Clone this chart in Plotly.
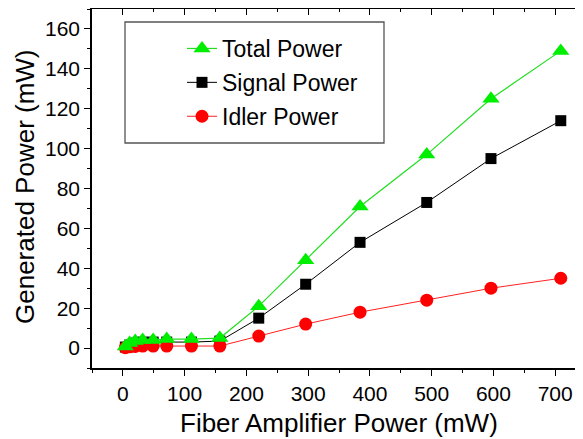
import plotly.graph_objects as go

# Data
fiber_power = [4, 11, 20, 32, 49, 71, 111, 157, 220, 296, 384, 492, 596, 709]
total_power = [0.8, 2.5, 3.5, 4.0, 4.0, 4.5, 4.5, 5.0, 21, 44, 71, 97, 125, 149]
signal_power = [0.5, 1.5, 2.5, 3.0, 3.0, 3.0, 3.0, 3.5, 15, 32, 53, 73, 95, 114]
idler_power = [0.2, 0.6, 0.8, 1.0, 1.0, 1.0, 1.0, 1.0, 6, 12, 18, 24, 30, 35]

x_ticks = [0, 100, 200, 300, 400, 500, 600, 700]
y_ticks = [0, 20, 40, 60, 80, 100, 120, 140, 160]

# page body has an 8px margin; figure is sized to fill the rest of the window
OFF = 8
W, H = 583 - OFF, 439 - OFF
ML, MR, MT, MB = 84, 0, 1, 71
PW, PH = W - ML - MR, H - MT - MB
FONT = "Liberation Sans, Arial, sans-serif"


def px_x(p):
    # screen pixel -> paper fraction
    return (p - OFF - ML) / PW


def px_y(p):
    return 1 - (p - OFF - MT) / PH


fig = go.Figure()

fig.add_trace(go.Scatter(
    x=fiber_power, y=signal_power, name="Signal Power", mode="lines+markers",
    line=dict(color="#000000", width=1),
    marker=dict(symbol="square", size=11, color="#000000", line=dict(width=0)),
    legendrank=2, legendgroup="s"))
fig.add_trace(go.Scatter(
    x=fiber_power, y=idler_power, name="Idler Power", mode="lines+markers",
    line=dict(color="#ff2020", width=1),
    marker=dict(symbol="circle", size=13, color="#ff0000", line=dict(width=0)),
    legendrank=3, legendgroup="i"))
fig.add_trace(go.Scatter(
    x=fiber_power, y=total_power, name="Total Power", mode="lines+markers",
    line=dict(color="#22dd22", width=1.2),
    marker=dict(symbol="triangle-up", size=15, color="#00ee00", line=dict(width=0)),
    legendrank=1, legendgroup="t"))

# dummy trace to activate mirrored axes (top/right with inside ticks)
fig.add_trace(go.Scatter(x=[None], y=[None], xaxis="x2", yaxis="y2",
                         showlegend=False, hoverinfo="skip"))

xr = [-50, 745]
yr = [-10, 170]

axis_common = dict(showgrid=False, zeroline=False, linecolor="black",
                   tickcolor="black", tickwidth=1.3, automargin=False)

fig.update_layout(
    width=W, height=H,
    margin=dict(l=ML, r=MR, t=MT, b=MB, autoexpand=False),
    paper_bgcolor="white", plot_bgcolor="white",
    font=dict(family=FONT, color="black", size=21),
    xaxis=dict(range=xr, tickvals=x_ticks, ticks="outside", ticklen=6,
               minor=dict(dtick=50, tick0=0, ticks="outside", ticklen=3,
                          tickcolor="black", tickwidth=1.2),
               showline=True, linewidth=1.5,
               tickfont=dict(size=21),
               **axis_common),
    yaxis=dict(range=yr, tickvals=y_ticks, ticks="outside", ticklen=6,
               minor=dict(dtick=10, tick0=0, ticks="outside", ticklen=3,
                          tickcolor="black", tickwidth=1.2),
               showline=True, linewidth=1.5,
               tickfont=dict(size=21),
               **axis_common),
    xaxis2=dict(range=xr, overlaying="x", side="top", anchor="y",
                tickvals=x_ticks, ticks="inside", ticklen=6,
                minor=dict(dtick=50, tick0=0, ticks="inside", ticklen=3,
                           tickcolor="black", tickwidth=1.2),
                showticklabels=False, showline=True, linewidth=1.5,
                **axis_common),
    yaxis2=dict(range=yr, overlaying="y", side="right", anchor="x",
                tickvals=y_ticks, ticks="inside", ticklen=6,
                minor=dict(dtick=10, tick0=0, ticks="inside", ticklen=3,
                           tickcolor="black", tickwidth=1.2),
                showticklabels=False, showline=False,
                **axis_common),
    legend=dict(x=px_x(182), y=px_y(27),
                xanchor="left", yanchor="top",
                bgcolor="rgba(0,0,0,0)", borderwidth=0,
                font=dict(size=23, family=FONT),
                traceorder="grouped", tracegroupgap=1),
    showlegend=True,
)

# axis titles
fig.add_annotation(text="Fiber Amplifier Power (mW)", xref="paper", yref="paper",
                   x=px_x(339), y=px_y(423), xanchor="center", yanchor="middle",
                   showarrow=False, font=dict(size=26, family=FONT))
fig.add_annotation(text="Generated Power (mW)", xref="paper", yref="paper",
                   x=px_x(25), y=px_y(187), xanchor="center", yanchor="middle",
                   textangle=-90, showarrow=False, font=dict(size=26, family=FONT))

# legend frame
fig.add_shape(type="rect", xref="paper", yref="paper",
              x0=px_x(125), x1=px_x(384), y0=px_y(143), y1=px_y(22),
              line=dict(color="#555555", width=1.3), fillcolor="rgba(0,0,0,0)")

fig.write_html("out.html")
